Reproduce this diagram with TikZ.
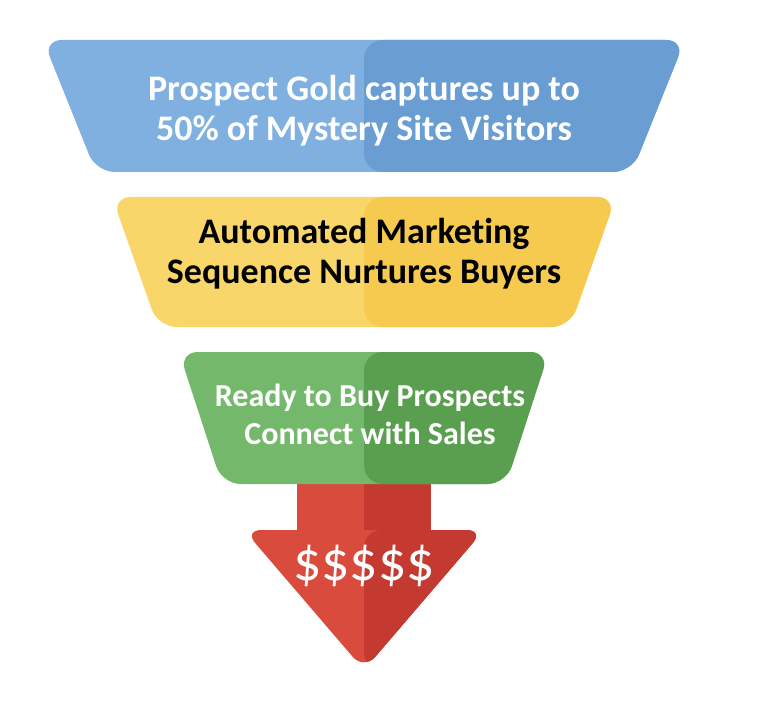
\documentclass[tikz,border=0pt]{standalone}
\usepackage{fontspec}
\setmainfont{Carlito}[Ligatures=NoCommon]
\definecolor{cbluel}{HTML}{80B0DF}
\definecolor{cblued}{HTML}{6A9ED2}
\definecolor{cyell}{HTML}{F9D66A}
\definecolor{cyeld}{HTML}{F5CA4E}
\definecolor{cgreenl}{HTML}{74B86C}
\definecolor{cgreend}{HTML}{5A9E4F}
\definecolor{credl}{HTML}{D94B3D}
\definecolor{credd}{HTML}{C43A31}
\tikzset{
  every picture/.style={x=0.75pt, y=-0.75pt},
  split/.style={fill=#1l, path picture={\fill[#1d] (path picture bounding box.north) rectangle (path picture bounding box.south east);}},
  band/.style={split=#1, rounded corners=14pt},
  label/.style={align=center, font=\bfseries\fontsize{27}{30}\selectfont},
}
\newcommand{\band}[5]{% top y, bottom y, top half-width, bottom half-width, colour
  \path[band=#5] (364-#3,#1) -- (364+#3,#1) -- (364+#4,#2) -- (364-#4,#2) -- cycle;}

\begin{document}
\begin{tikzpicture}
  \useasboundingbox (0,0) rectangle (780,716);
  % arrow: shaft and head
  \path[split=cred] (297,470) rectangle (431,531);
  \path[split=cred, rounded corners=13pt] (244,530) -- (484,530) -- (364,670) -- cycle;
  % funnel bands
  \band{40}{172}{321}{268}{cblue}
  \band{197}{327}{252}{206}{cyel}
  \band{352}{484}{185}{142}{cgreen}
  % texts
  \node[label, text=white] (capture) at (364,111) {Prospect Gold captures up to\\50\% of Mystery Site Visitors};
  \node[label] (nurture) at (364,254) {Automated Marketing\\Sequence Nurtures Buyers};
  \node[label, text=white, font=\bfseries\fontsize{24}{28.5}\selectfont] (connect) at (370,414) {Ready to Buy Prospects\\Connect with Sales};
  \node[text=white, font=\fontsize{42}{45}\selectfont] (cash) at (364,566) {\$\$\$\$\$};
\end{tikzpicture}
\end{document}
